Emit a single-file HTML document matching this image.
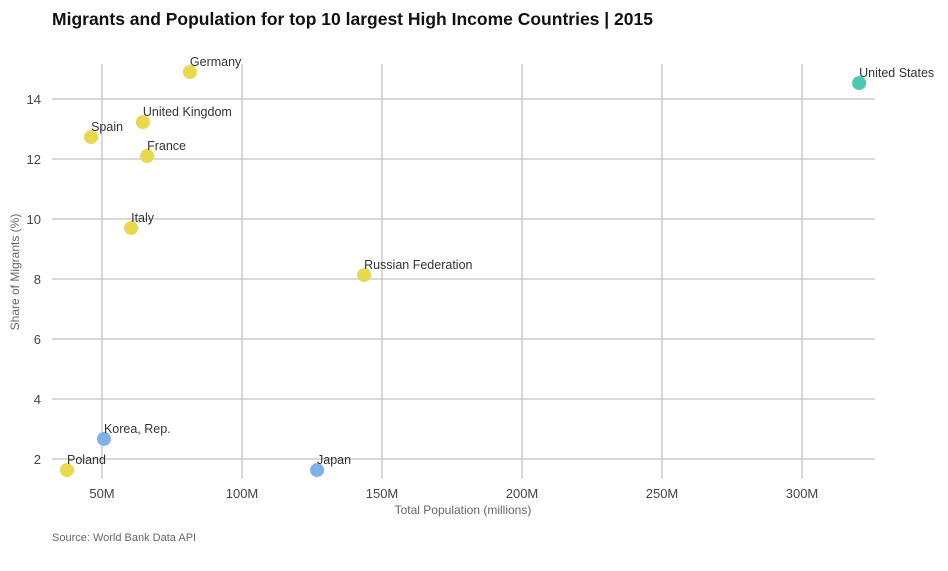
<!DOCTYPE html>
<html><head><meta charset="utf-8"><style>
body{margin:0;background:#fff;width:948px;height:566px;overflow:hidden;font-family:"Liberation Sans",sans-serif}
</style></head><body>
<svg width="948" height="566" xmlns="http://www.w3.org/2000/svg" id="chart">
<text x="52" y="25" font-size="17.5" font-weight="bold" fill="#111">Migrants and Population for top 10 largest High Income Countries | 2015</text>
<g id="grid"></g>
<g id="marks"></g>
<text x="463" y="514" font-size="12" fill="#666" text-anchor="middle">Total Population (millions)</text>
<text transform="translate(19,272) rotate(-90)" font-size="12" fill="#666" text-anchor="middle">Share of Migrants (%)</text>
<text x="52" y="541" font-size="11" fill="#666">Source: World Bank Data API</text>
</svg>
<script>
const countries=["United States","Germany","United Kingdom","Spain","France","Italy","Russian Federation","Korea, Rep.","Poland","Japan"];
const population=[320.4,81.4,64.6,46.1,66.1,60.4,143.6,50.7,37.5,126.8];
const migrantShare=[14.53,14.9,13.23,12.73,12.1,9.7,8.13,2.67,1.63,1.63];
const groups=["teal","yellow","yellow","yellow","yellow","yellow","yellow","blue","yellow","blue"];
const xTicks=[50,100,150,200,250,300];
const yTicks=[2,4,6,8,10,12,14];
const colors={teal:"#4bc8b0",yellow:"#e8d84e",blue:"#7eb0ea"};
const NS="http://www.w3.org/2000/svg";
const xs=v=>102+(v-50)*2.8;
const ys=v=>459-(v-2)*30;
const grid=document.getElementById('grid'),marks=document.getElementById('marks');
function mk(tag,attrs,parent,txt){const e=document.createElementNS(NS,tag);for(const k in attrs)e.setAttribute(k,attrs[k]);if(txt!==undefined)e.textContent=txt;parent.appendChild(e);return e;}
xTicks.forEach(t=>{
  const l=mk('line',{x1:xs(t),x2:xs(t),y1:64,y2:479,stroke:"#b3b3b3","stroke-width":1},grid);
  
  
  const tx=mk('text',{x:xs(t),y:498,"font-size":13,fill:"#444","text-anchor":"middle"},grid,t+"M");
  
  
});
yTicks.forEach(t=>{
  const l=mk('line',{x1:52,x2:875,y1:ys(t),y2:ys(t),stroke:"#b3b3b3","stroke-width":1},grid);
  
  
  const tx=mk('text',{x:41,y:ys(t)+5,"font-size":13,fill:"#444","text-anchor":"end"},grid,t);
  
  
});
countries.forEach((c,i)=>{
  const cx=xs(population[i]),cy=ys(migrantShare[i]);
  const p=mk('circle',{cx:cx,cy:cy,r:7,fill:colors[groups[i]]},marks);
  
  
  const t=mk('text',{x:cx,y:cy-6,"font-size":12.5,fill:"#333"},marks,c);
  
  
});
</script>
</body></html>
